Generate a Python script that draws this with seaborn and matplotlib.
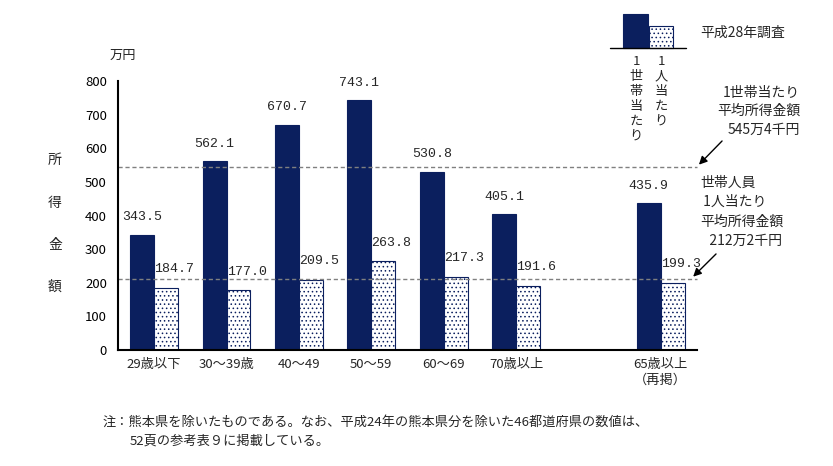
import numpy as np
import pandas as pd
import seaborn as sns
import matplotlib.pyplot as plt
from matplotlib.patches import Rectangle
from matplotlib.lines import Line2D

# data
age_groups = ["29歳以下", "30～39歳", "40～49", "50～59", "60～69", "70歳以上", "65歳以上\n（再掲）"]
per_household = [343.5, 562.1, 670.7, 743.1, 530.8, 405.1, 435.9]
per_person = [184.7, 177.0, 209.5, 263.8, 217.3, 191.6, 199.3]
series_names = ["1世帯当たり", "1人当たり"]
avg_household = 545.4
avg_person = 212.2

NAVY = "#0b1f5e"

sns.set_theme(style="white")
plt.rcParams['font.family'] = ['Noto Sans CJK JP', 'DejaVu Sans']
plt.rcParams['hatch.linewidth'] = 0.6
plt.rcParams['hatch.color'] = NAVY

df = pd.DataFrame({
    "age": age_groups * 2,
    "value": per_household + per_person,
    "kind": [series_names[0]] * len(age_groups) + [series_names[1]] * len(age_groups),
})
# blank slot between 70歳以上 and 65歳以上
order = age_groups[:6] + [" "] + age_groups[6:]

fig = plt.figure(figsize=(8.33, 4.66), dpi=100)
ax = fig.add_axes([0.1417, 0.249, 0.695, 0.577])

sns.barplot(data=df, x="age", y="value", hue="kind", order=order,
            hue_order=series_names, palette=[NAVY, "white"], width=0.66,
            saturation=1, legend=False, ax=ax)

for p in ax.containers[0]:
    p.set_edgecolor(NAVY)
    p.set_linewidth(0.8)
for p in ax.containers[1]:
    p.set_edgecolor(NAVY)
    p.set_linewidth(0.8)
    p.set_hatch("....")

# value labels
for p in ax.containers[0]:
    h = p.get_height()
    if np.isnan(h):
        continue
    ax.annotate(f"{h:.1f}", (p.get_x() + p.get_width() / 2, h), xytext=(0, 8),
                textcoords="offset points", ha="center", va="bottom",
                fontsize=9.5, family="Liberation Mono")
for p in ax.containers[1]:
    h = p.get_height()
    if np.isnan(h):
        continue
    ax.annotate(f"{h:.1f}", (p.get_x(), h), xytext=(0, 9),
                textcoords="offset points", ha="left", va="bottom",
                fontsize=9.5, family="Liberation Mono")

# average lines
ax.axhline(avg_household, color="grey", ls=(0, (3, 2)), lw=1, xmax=1.0, clip_on=False)
ax.axhline(avg_person, color="grey", ls=(0, (3, 2)), lw=1, xmax=1.0, clip_on=False)

ax.set_xlim(-0.5, 7.5)
ax.set_ylim(0, 800)
ax.set_yticks(range(0, 801, 100))
ax.set_xticks([0, 1, 2, 3, 4, 5, 7])
ax.set_xticklabels(age_groups, fontsize=9.5)
ax.tick_params(axis="y", direction="in", length=4, width=1, labelsize=9.5, colors="black", pad=8)
ax.tick_params(axis="x", length=0, labelsize=9.5, pad=6)
ax.set_xlabel("")
ax.set_ylabel("")
for s in ["top", "right"]:
    ax.spines[s].set_visible(False)
ax.spines["left"].set_color("black")
ax.spines["bottom"].set_color("black")
ax.spines["left"].set_linewidth(1.5)
ax.spines["bottom"].set_linewidth(1.5)

# axis titles
fig.text(110 / 833, 1 - 55 / 466, "万円", fontsize=9.5, ha="left", va="center")
for ch, yy in zip("所得金額", [160, 203, 245, 287]):
    fig.text(55 / 833, 1 - yy / 466, ch, fontsize=10, ha="center", va="center")

# legend box (top right)
fig.add_artist(Rectangle((623 / 833, 1 - 48 / 466), 25 / 833, 34 / 466, transform=fig.transFigure,
                         facecolor=NAVY, edgecolor=NAVY, lw=0.8))
fig.add_artist(Rectangle((649 / 833, 1 - 48 / 466), 24 / 833, 22 / 466, transform=fig.transFigure,
                         facecolor="white", edgecolor=NAVY, lw=0.8, hatch="...."))
fig.add_artist(Line2D([610 / 833, 686 / 833], [1 - 48 / 466, 1 - 48 / 466], transform=fig.transFigure,
                      color="black", lw=1))
fig.text(636 / 833, 1 - 55 / 466, "1\n世\n帯\n当\nた\nり", fontsize=9.5, ha="center", va="top", linespacing=1.2)
fig.text(661 / 833, 1 - 55 / 466, "1\n人\n当\nた\nり", fontsize=9.5, ha="center", va="top", linespacing=1.2)
fig.text(700 / 833, 1 - 33 / 466, "平成28年調査", fontsize=10, ha="left", va="center")

# annotations for averages
fig.text(800 / 833, 1 - 111 / 466, "1世帯当たり\n平均所得金額\n545万4千円", fontsize=10,
         ha="right", va="center", multialignment="right", linespacing=1.4)
ax.annotate("", xy=(7.5, avg_household), xycoords="data",
            xytext=(724, 466 - 139), textcoords="figure pixels",
            arrowprops=dict(arrowstyle="-|>", color="black", lw=1, mutation_scale=12))
fig.text(700 / 833, 1 - 212 / 466, "世帯人員\n 1人当たり\n平均所得金額\n   212万2千円", fontsize=10,
         ha="left", va="center", linespacing=1.5)
ax.annotate("", xy=(7.42, avg_person), xycoords="data",
            xytext=(718, 466 - 252), textcoords="figure pixels",
            arrowprops=dict(arrowstyle="-|>", color="black", lw=1, mutation_scale=12))

# footnote
fig.text(103 / 833, 1 - 422 / 466,
         "注：熊本県を除いたものである。なお、平成24年の熊本県分を除いた46都道府県の数値は、",
         fontsize=9.5, ha="left", va="center")
fig.text(130 / 833, 1 - 441 / 466, "52頁の参考表９に掲載している。", fontsize=9.5, ha="left", va="center")

fig.savefig("out.png", dpi=100)
